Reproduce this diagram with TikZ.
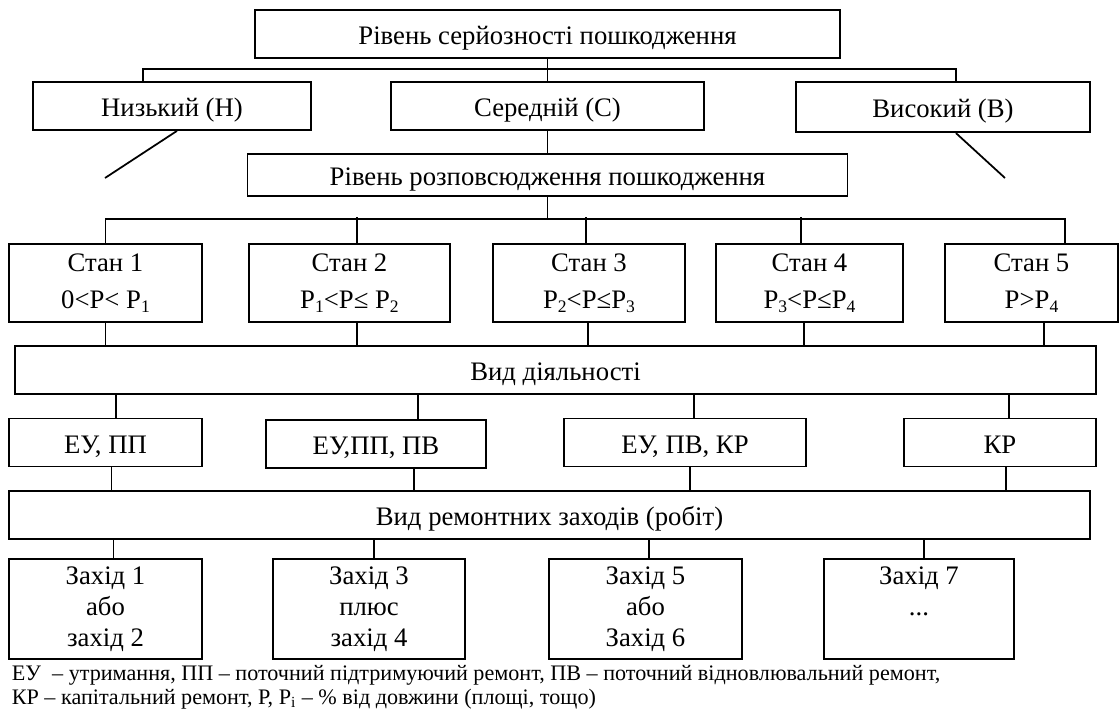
\documentclass[tikz,border=0pt]{standalone}
\usepackage{fontspec}
\setmainfont{Liberation Serif}
\newcommand{\idx}[1]{\raisebox{-0.35ex}{\fontsize{10}{10}\selectfont #1}}
\begin{document}
\begin{tikzpicture}[x=0.2mm, y=-0.2mm, line width=1pt,
  box/.style={draw, align=center, inner sep=0pt, font=\fontsize{15.2}{17.6}\selectfont},
  onebox/.style={box, text height=15pt, text depth=3pt},
  note/.style={anchor=base west, inner sep=0pt, font=\fontsize{12.6}{14}\selectfont}]
\useasboundingbox (0,0) rectangle (1120,718);
% рівень серйозності
\node[onebox, minimum width=117mm, minimum height=9.6mm] (ser) at (547.5,34) {Рівень серйозності пошкодження};
\node[onebox, minimum width=55.6mm, minimum height=9.6mm] (low) at (172,106) {Низький (Н)};
\node[onebox, minimum width=62.6mm, minimum height=9.6mm] (mid) at (547.5,106) {Середній (С)};
\node[onebox, minimum width=58.8mm, minimum height=10.1mm] (high) at (943,107) {Високий (В)};
\coordinate (lowend) at (105,178);
\coordinate (highend) at (1005,178);
\draw ([xshift=-5.8mm]low.north) |- ([yshift=-2mm]ser.south) -| ([xshift=2.6mm]high.north);
\draw (ser.south) -- (mid.north);
\draw ([xshift=1mm]low.south) -- (lowend);
\draw ([xshift=2.6mm]high.south) -- (highend);
% рівень розповсюдження
\node[onebox, minimum width=120mm, minimum height=8.4mm] (spread) at (547.5,175) {Рівень розповсюдження пошкодження};
\draw (mid.south) -- (spread.north);
\node[box, minimum width=38.6mm, minimum height=15.6mm] (s1) at (105.5,283) {Стан 1\\[3.5pt]0<P<~P\idx{1}};
\node[box, minimum width=40.2mm, minimum height=15.6mm] (s2) at (349.5,283) {Стан 2\\[3.5pt]P\idx{1}<P≤~P\idx{2}};
\node[box, minimum width=38.4mm, minimum height=15.6mm] (s3) at (589,283) {Стан 3\\[3.5pt]P\idx{2}<P≤P\idx{3}};
\node[box, minimum width=37.4mm, minimum height=15.6mm] (s4) at (809.5,283) {Стан 4\\[3.5pt]P\idx{3}<P≤P\idx{4}};
\node[box, minimum width=34.6mm, minimum height=15.6mm] (s5) at (1031.5,283) {Стан 5\\[3.5pt]P>P\idx{4}};
\draw (spread.south) -- ([yshift=-4.4mm]spread.south);
\draw (s1.north) |- ([yshift=-4.4mm]spread.south) -| ([xshift=6.7mm]s5.north);
\draw ([xshift=1.5mm]s2.north) -- ++(0,-26);
\draw ([xshift=-0.6mm]s3.north) -- ++(0,-26);
\draw ([xshift=-1.7mm]s4.north) -- ++(0,-26);
% вид діяльності
\node[onebox, minimum width=216.2mm, minimum height=9.6mm] (vid) at (555.5,370) {Вид діяльності};
\draw (s1.south) -- (s1.south |- vid.north);
\draw ([xshift=1.5mm]s2.south) -- ([xshift=1.5mm]s2.south |- vid.north);
\draw ([xshift=-0.2mm]s3.south) -- ([xshift=-0.2mm]s3.south |- vid.north);
\draw ([xshift=-1.1mm]s4.south) -- ([xshift=-1.1mm]s4.south |- vid.north);
\draw ([xshift=2.5mm]s5.south) -- ([xshift=2.5mm]s5.south |- vid.north);
\node[onebox, minimum width=38.6mm, minimum height=9.6mm] (eu1) at (105.5,442.5) {ЕУ, ПП};
\node[onebox, minimum width=44mm, minimum height=9.6mm] (eu2) at (376,444) {ЕУ,ПП, ПВ};
\node[onebox, minimum width=48.4mm, minimum height=9.6mm] (eu3) at (685,442.5) {ЕУ, ПВ, КР};
\node[onebox, minimum width=38.4mm, minimum height=9.6mm] (kr) at (1000,442.5) {КР};
\draw ([xshift=2.1mm]eu1.north) -- ([xshift=2.1mm]eu1.north |- vid.south);
\draw ([xshift=8.4mm]eu2.north) -- ([xshift=8.4mm]eu2.north |- vid.south);
\draw ([xshift=1.8mm]eu3.north) -- ([xshift=1.8mm]eu3.north |- vid.south);
\draw ([xshift=1.8mm]kr.north) -- ([xshift=1.8mm]kr.north |- vid.south);
% вид ремонтних заходів
\node[onebox, minimum width=216.2mm, minimum height=9.6mm] (rem) at (549.5,515) {Вид ремонтних заходів (робіт)};
\draw ([xshift=1.2mm]eu1.south) -- ([xshift=1.2mm]eu1.south |- rem.north);
\draw ([xshift=7.6mm]eu2.south) -- ([xshift=7.6mm]eu2.south |- rem.north);
\draw ([xshift=1mm]eu3.south) -- ([xshift=1mm]eu3.south |- rem.north);
\draw ([xshift=1.2mm]kr.south) -- ([xshift=1.2mm]kr.south |- rem.north);
\node[box, minimum width=38.6mm, minimum height=20mm] (z1) at (105.5,609) {Захід 1\\або\\захід 2};
\node[box, minimum width=38.4mm, minimum height=20mm] (z3) at (369,609) {Захід 3\\плюс\\захід 4};
\node[box, minimum width=38.6mm, minimum height=20mm] (z5) at (645.5,609) {Захід 5\\або\\Захід 6};
\node[box, minimum width=38mm, minimum height=20mm] (z7) at (919,609) {Захід 7\\...\\\phantom{захід 2}};
\draw ([xshift=1.6mm]z1.north) -- ([xshift=1.6mm]z1.north |- rem.south);
\draw ([xshift=1mm]z3.north) -- ([xshift=1mm]z3.north |- rem.south);
\draw ([xshift=0.7mm]z5.north) -- ([xshift=0.7mm]z5.north |- rem.south);
\draw ([xshift=1mm]z7.north) -- ([xshift=1mm]z7.north |- rem.south);
% пояснення
\node[note] (legend1) at (11,680) {ЕУ~ – утримання, ПП – поточний підтримуючий ремонт, ПВ – поточний відновлювальний ремонт,};
\node[note] (legend2) at (11,704) {КР – капітальний ремонт, Р, Р\textsubscript{i} – \% від довжини (площі, тощо)};
\end{tikzpicture}
\end{document}
